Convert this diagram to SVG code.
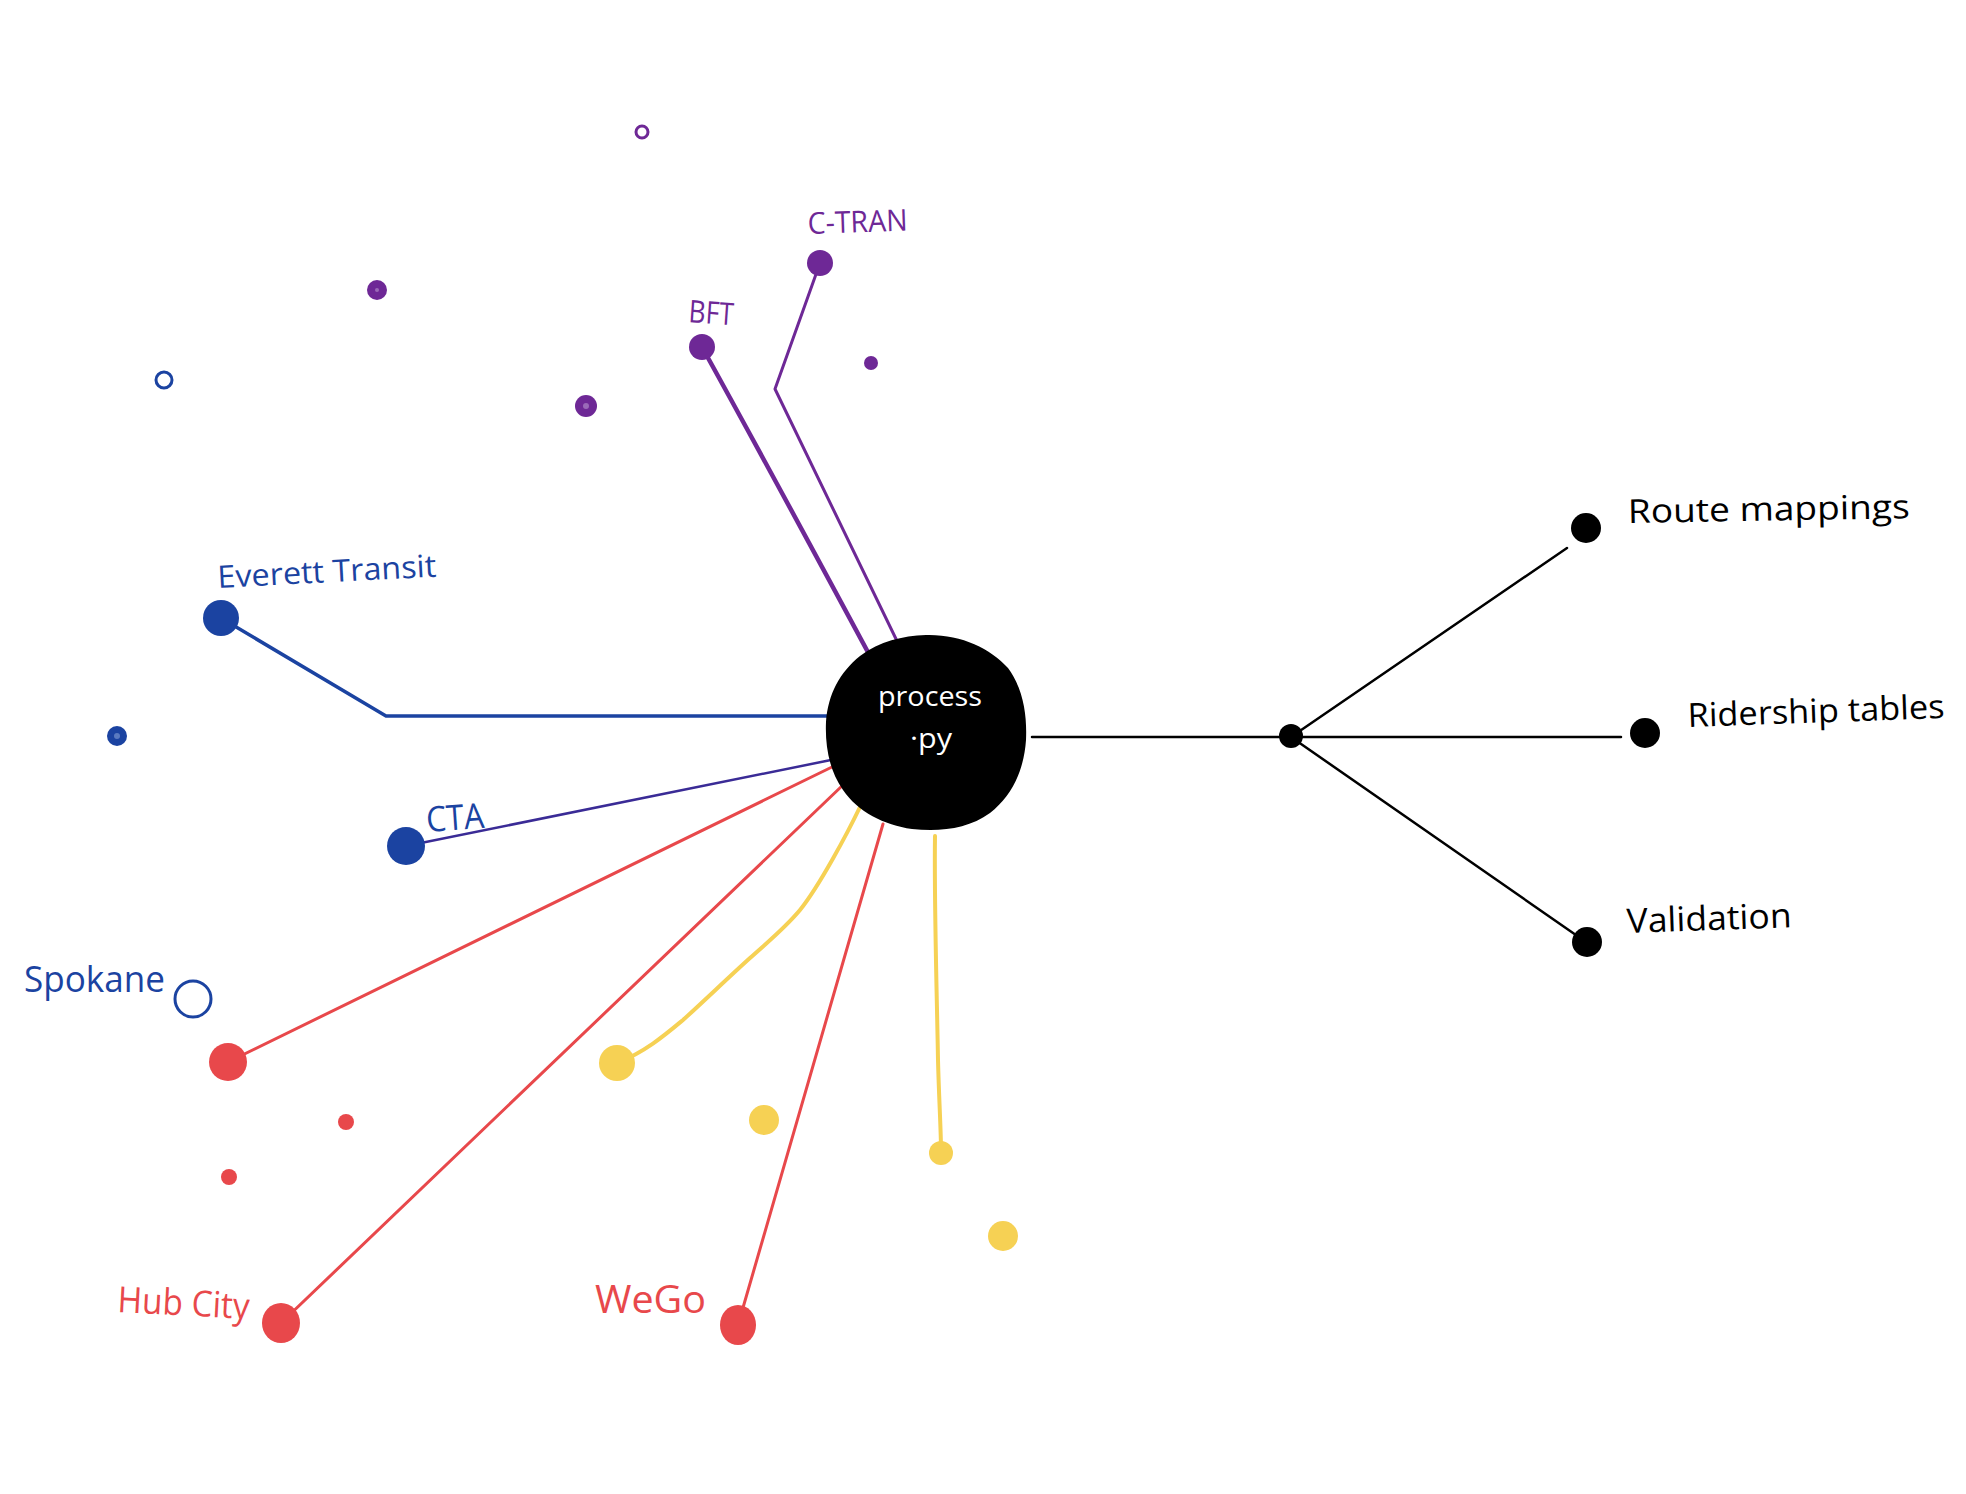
<svg xmlns="http://www.w3.org/2000/svg" width="1966" height="1494" viewBox="0 0 1966 1494">
<style>
.lbl{font-family:"Open Sans","Liberation Sans",sans-serif;font-weight:400}
.blue{fill:#1B43A1}.purple{fill:#6E2896}.red{fill:#E8484B}.yellow{fill:#F6D154}.black{fill:#000}
.c{fill:none;stroke-linecap:round;stroke-linejoin:round}
</style>
<rect width="1966" height="1494" fill="#fff"/>
<g id="connectors">
<path class="c" d="M221,618 L386,716 L834,716" stroke="#1B43A1" stroke-width="3.5"/>
<path class="c" d="M820,263 L775,389 L897,641" stroke="#6E2896" stroke-width="3"/>
<path class="c" d="M702,347 Q770,470 870,656" stroke="#6E2896" stroke-width="4.5"/>
<path class="c" d="M406,846 L831,760" stroke="#3A2B96" stroke-width="2.5"/>
<path class="c" d="M228,1062 L832,767" stroke="#E8484B" stroke-width="3"/>
<path class="c" d="M281,1323 L843,785" stroke="#E8484B" stroke-width="3"/>
<path class="c" d="M738,1325 L883,824" stroke="#E8484B" stroke-width="3"/>
<path class="c" d="M860,807 C848,832 820,885 800,910 C785,928 770,940 750,958 C730,976 705,1000 683,1020 C665,1035 645,1052 617,1063" stroke="#F6D154" stroke-width="4"/>
<path class="c" d="M935,836 C934,900 937,1000 938,1060 C939,1100 941,1130 941,1150" stroke="#F6D154" stroke-width="4"/>
<path class="c" d="M1032,737 L1291,737 L1567,548 M1291,737 L1621,737 M1291,737 L1586,942" stroke="#000" stroke-width="2.5"/>
</g>
<g id="center">
<path class="black" d="M926,635 C960,634 990,648 1008,668 C1024,690 1027,716 1026,740 C1024,770 1012,796 990,813 C968,829 940,832 912,829 C884,825 858,812 843,790 C829,770 825,746 826,722 C828,694 840,672 860,656 C880,641 902,636 926,635 Z"/>
<text class="lbl" x="878" y="706" font-size="28" fill="#fff" textLength="104" lengthAdjust="spacingAndGlyphs">process</text>
<text class="lbl" x="910" y="748" font-size="28" fill="#fff" textLength="42" lengthAdjust="spacingAndGlyphs">·py</text>
</g>
<g id="everett">
<circle class="blue" cx="221" cy="618" r="18"/>
<text class="lbl blue" x="218" y="588" font-size="31" textLength="219" lengthAdjust="spacingAndGlyphs" transform="rotate(-3 218 588)">Everett Transit</text>
</g>
<g id="cta">
<circle class="blue" cx="406" cy="846" r="19"/>
<text class="lbl blue" x="427" y="832" font-size="35" textLength="58" lengthAdjust="spacingAndGlyphs" transform="rotate(-4 427 832)">CTA</text>
</g>
<g id="spokane">
<circle cx="193" cy="999" r="18" fill="none" stroke="#1B43A1" stroke-width="3"/>
<text class="lbl blue" x="24" y="992" font-size="36" textLength="141" lengthAdjust="spacingAndGlyphs">Spokane</text>
</g>
<g id="bft">
<circle class="purple" cx="702" cy="347" r="13"/>
<text class="lbl purple" x="688" y="322" font-size="31" textLength="45" lengthAdjust="spacingAndGlyphs" transform="rotate(4 688 322)">BFT</text>
</g>
<g id="ctran">
<circle class="purple" cx="820" cy="263" r="13"/>
<text class="lbl purple" x="808" y="234" font-size="30" textLength="100" lengthAdjust="spacingAndGlyphs" transform="rotate(-2 808 234)">C-TRAN</text>
</g>
<g id="red-spokane-dot">
<circle class="red" cx="228" cy="1062" r="19"/>
</g>
<g id="hubcity">
<ellipse class="red" cx="281" cy="1323" rx="19" ry="20"/>
<text class="lbl red" x="117" y="1312" font-size="36" textLength="132" lengthAdjust="spacingAndGlyphs" transform="rotate(3 117 1312)">Hub City</text>
</g>
<g id="wego">
<ellipse class="red" cx="738" cy="1325" rx="18" ry="20"/>
<text class="lbl red" x="595" y="1313" font-size="38" textLength="111" lengthAdjust="spacingAndGlyphs">WeGo</text>
</g>
<g id="yellow-1">
<circle class="yellow" cx="617" cy="1063" r="18"/>
</g>
<g id="yellow-2">
<circle class="yellow" cx="941" cy="1153" r="12"/>
</g>
<g id="hub">
<circle class="black" cx="1291" cy="736" r="12"/>
</g>
<g id="route-mappings">
<circle class="black" cx="1586" cy="528" r="15"/>
<text class="lbl black" x="1628" y="523" font-size="33" textLength="282" lengthAdjust="spacingAndGlyphs" transform="rotate(-1 1628 523)">Route mappings</text>
</g>
<g id="ridership-tables">
<circle class="black" cx="1645" cy="733" r="15"/>
<text class="lbl black" x="1688" y="727" font-size="33" textLength="257" lengthAdjust="spacingAndGlyphs" transform="rotate(-2 1688 727)">Ridership tables</text>
</g>
<g id="validation">
<circle class="black" cx="1587" cy="942" r="15"/>
<text class="lbl black" x="1627" y="933" font-size="34" textLength="165" lengthAdjust="spacingAndGlyphs" transform="rotate(-2 1627 933)">Validation</text>
</g>
<g id="loose-dots">
<circle cx="642" cy="132" r="6" fill="none" stroke="#6E2896" stroke-width="3"/>
<circle class="purple" cx="377" cy="290" r="10"/>
<circle cx="377" cy="290" r="2" fill="#9a6ab8"/>
<circle cx="164" cy="380" r="8" fill="none" stroke="#1B43A1" stroke-width="3"/>
<circle class="purple" cx="586" cy="406" r="11"/>
<circle cx="586" cy="406" r="3" fill="#9a6ab8"/>
<circle class="purple" cx="871" cy="363" r="7"/>
<circle class="blue" cx="117" cy="736" r="10"/>
<circle cx="117" cy="736" r="3" fill="#5a7ac0"/>
<circle class="red" cx="346" cy="1122" r="8"/>
<circle class="red" cx="229" cy="1177" r="8"/>
<circle class="yellow" cx="764" cy="1120" r="15"/>
<circle class="yellow" cx="1003" cy="1236" r="15"/>
</g>
</svg>
